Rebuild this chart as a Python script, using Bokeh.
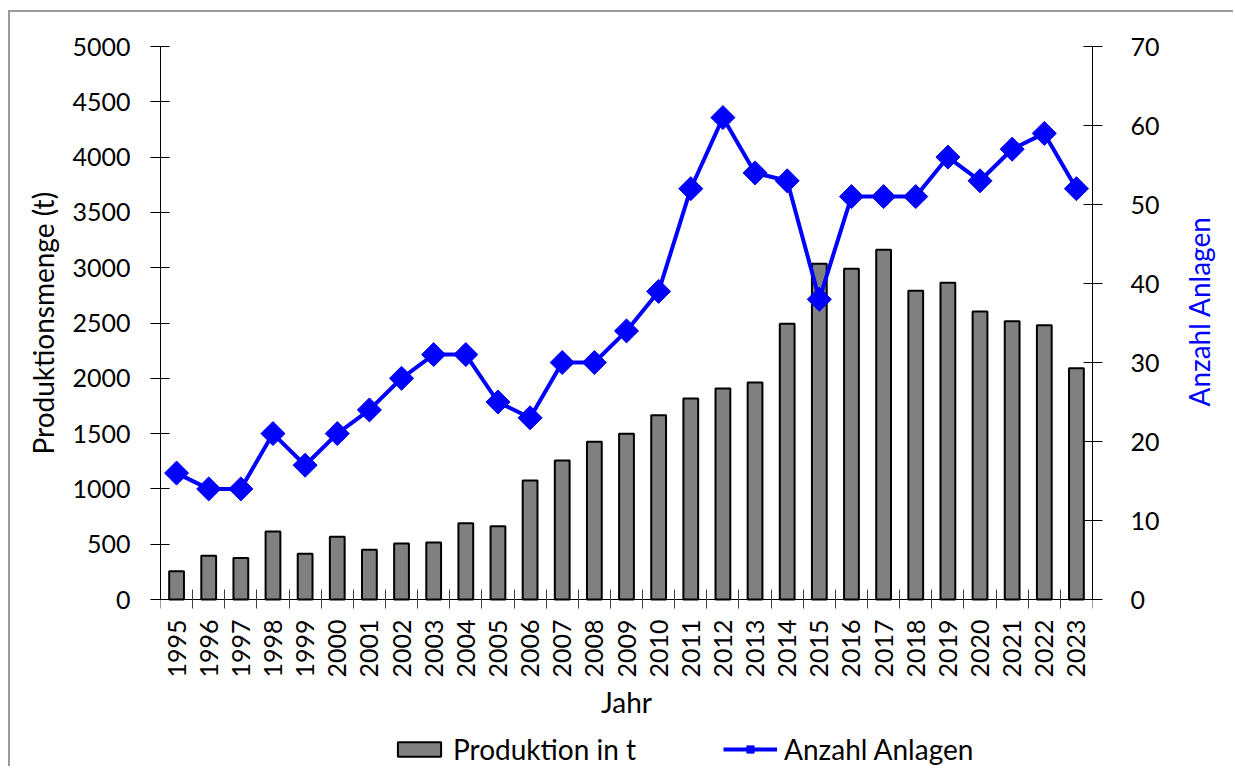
import math
from bokeh.plotting import figure
from bokeh.models import Range1d, LinearAxis, FixedTicker, Legend, LegendItem, Title
from bokeh.embed import file_html
from bokeh.resources import INLINE

# ---- data ----
years = list(range(1995, 2024))
produktion = [255, 395, 375, 615, 413, 567, 449, 506, 515, 690, 663, 1076, 1257, 1426,
              1498, 1666, 1817, 1908, 1962, 2493, 3035, 2990, 3162, 2791, 2863, 2604,
              2516, 2480, 2091]
anlagen = [16, 14, 14, 21, 17, 21, 24, 28, 31, 31, 25, 23, 30, 30, 34, 39, 52, 61, 54,
           53, 38, 51, 51, 51, 56, 53, 57, 59, 52]
left_ticks = list(range(0, 5001, 500))
right_ticks = list(range(0, 71, 10))

FONT = "Lato"
TICK_FS = "25px"
LAB_FS = "28px"

# layout: frame extends below the value axis so that the category labels and
# the legend are drawn inside it; value axes are bounded to their data span.
W, H = 1225, 756
TOP, BOTTOM, LEFT, RIGHT = 34, 2, 150, 133
frame_h = H - TOP - BOTTOM
plot_h = 553                      # pixels used by 0..max of the value axes
below_px = frame_h - plot_h
ymax_l, ymax_r = left_ticks[-1], right_ticks[-1]

p = figure(width=W, height=H,
           x_range=Range1d(years[0] - 0.5, years[-1] + 0.5),
           y_range=Range1d(-below_px * ymax_l / plot_h, ymax_l),
           output_backend="svg", toolbar_location=None,
           min_border_left=LEFT, min_border_right=RIGHT,
           min_border_top=TOP, min_border_bottom=BOTTOM)
p.styles = {"border-top": "2px solid #9a9a9a", "border-left": "2px solid #9a9a9a",
            "margin-top": "10px", "margin-left": "8px"}
p.extra_y_ranges = {"right": Range1d(-below_px * ymax_r / plot_h, ymax_r)}
p.xgrid.visible = False
p.ygrid.visible = False
p.outline_line_color = None
p.background_fill_color = "white"

bars = p.vbar(x=years, top=produktion, width=0.46, fill_color="#808080",
              line_color="black", line_width=2)
line = p.line(years, anlagen, y_range_name="right", line_color="#0000ff", line_width=4)
marks = p.scatter(years, anlagen, y_range_name="right", marker="square",
                  angle=math.pi / 4, size=17, fill_color="#0000ff", line_color="#0000ff")

# left axis
ya = p.yaxis[0]
ya.ticker = FixedTicker(ticks=left_ticks, minor_ticks=[])
ya.bounds = (0, ymax_l)
ya.major_tick_in = 9
ya.major_tick_out = 10
ya.major_label_standoff = 20

# left axis title, centred on the 0..5000 span
p.add_layout(Title(text="Produktionsmenge (t)", align="left",
                   offset=below_px + plot_h // 2 - 131, vertical_align="bottom",
                   standoff=20, text_font=FONT, text_font_size=LAB_FS,
                   text_font_style="normal", text_color="black"), "left")

# right axis
ra = LinearAxis(y_range_name="right", ticker=FixedTicker(ticks=right_ticks, minor_ticks=[]))
ra.bounds = (0, ymax_r)
ra.axis_label = "Anzahl Anlagen"
ra.major_tick_in = 9
ra.major_tick_out = 10
ra.major_label_standoff = 28
ra.axis_label_standoff = 36
if "axis_label_orientation" in ra.properties():
    ra.axis_label_orientation = math.pi / 2
p.add_layout(ra, "right")

# x axis (drawn at value 0)
xa = p.xaxis[0]
xa.fixed_location = 0
xa.ticker = FixedTicker(ticks=years, minor_ticks=[y - 0.5 for y in years] + [years[-1] + 0.5])
xa.bounds = (years[0] - 0.5, years[-1] + 0.5)
xa.axis_label = "Jahr"
xa.major_tick_in = 0
xa.major_tick_out = 0
xa.minor_tick_in = 10
xa.minor_tick_out = 9
xa.major_label_orientation = math.pi / 2
xa.major_label_standoff = 11
xa.axis_label_standoff = 4

for ax in (ya, ra, xa):
    ax.axis_line_color = "black"
    ax.major_tick_line_color = "black"
    ax.minor_tick_line_color = "#404040"
    ax.major_label_text_font = FONT
    ax.major_label_text_font_size = TICK_FS
    ax.major_label_text_color = "black"
    ax.axis_label_text_font = FONT
    ax.axis_label_text_font_size = LAB_FS
    ax.axis_label_text_font_style = "normal"
    ax.axis_label_text_color = "black"
ra.axis_label_text_color = "#0000ff"

legend = Legend(items=[LegendItem(label="Produktion in t", renderers=[bars]),
                       LegendItem(label="Anzahl Anlagen", renderers=[line, marks])],
                orientation="horizontal", location=(232, 0),
                glyph_width=54, glyph_height=18,
                label_text_font=FONT, label_text_font_size=LAB_FS,
                label_text_color="black",
                border_line_color=None, background_fill_alpha=0,
                padding=0, margin=0, spacing=87, label_standoff=7)
p.add_layout(legend, "center")

open("out.html", "w").write(file_html(p, INLINE))
